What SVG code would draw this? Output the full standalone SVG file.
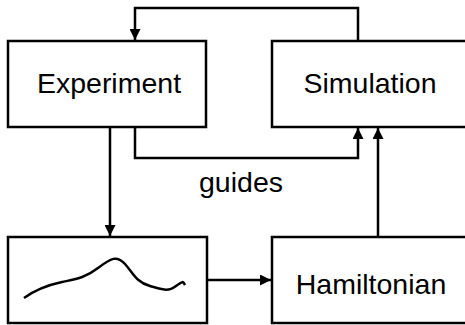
<svg xmlns="http://www.w3.org/2000/svg" width="465" height="325" viewBox="0 0 465 325">
  <style>
    .box { fill: #ffffff; stroke: #000000; stroke-width: 2.5; }
    .edge { fill: none; stroke: #000000; stroke-width: 2.5; }
    .label { font-family: "Liberation Sans", Arial, sans-serif; font-size: 28.5px; fill: #000000; text-anchor: middle; }
  </style>
  <defs>
    <marker id="arrow" viewBox="0 0 10 10" refX="10" refY="5" markerWidth="5" markerHeight="4.4" markerUnits="strokeWidth" orient="auto">
      <path d="M0,0 L10,5 L0,10 z" fill="#000000"/>
    </marker>
  </defs>
  <rect width="465" height="325" fill="#ffffff"/>

  <g id="connectors">
    <path class="edge" d="M358,42 V8 H135 V40" marker-end="url(#arrow)"/>
    <path class="edge" d="M135,127 V158 H358 V128" marker-end="url(#arrow)"/>
    <path class="edge" d="M110,127 V236" marker-end="url(#arrow)"/>
    <path class="edge" d="M207,280 H271" marker-end="url(#arrow)"/>
    <path class="edge" d="M378,237 V128" marker-end="url(#arrow)"/>
    <text class="label" x="241" y="192">guides</text>
  </g>

  <g id="experiment">
    <rect class="box" x="8" y="41" width="198" height="86"/>
    <text class="label" x="109" y="93">Experiment</text>
  </g>

  <g id="simulation">
    <rect class="box" x="272" y="41" width="198" height="86"/>
    <text class="label" x="370" y="93">Simulation</text>
  </g>

  <g id="data">
    <rect class="box" x="8" y="237" width="199" height="86"/>
    <path class="edge" d="M24,298 C35,290 48,285 62,282 S85,278 98,268 S117,255 125,264 S136,282 150,286 S168,292 176,286 S183,282 185,285"/>
  </g>

  <g id="hamiltonian">
    <rect class="box" x="272" y="237" width="198" height="86"/>
    <text class="label" x="371" y="294">Hamiltonian</text>
  </g>
</svg>
